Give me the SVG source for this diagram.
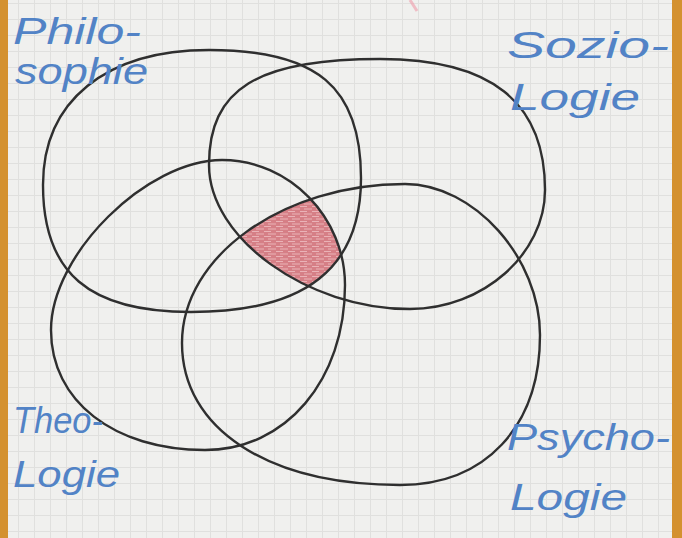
<svg xmlns="http://www.w3.org/2000/svg" width="682" height="538" viewBox="0 0 682 538">
<defs>
<pattern id="grid" width="16" height="16" patternUnits="userSpaceOnUse" x="3" y="4">
<path d="M15.5 0 V16 M0 15.5 H16" stroke="#e0e0de" stroke-width="1" fill="none"/>
</pattern>
<pattern id="hatch" width="12" height="5" patternUnits="userSpaceOnUse">
<rect width="12" height="5" fill="#d67f86"/>
<path d="M0 1.5 H7 M4 4 H12" stroke="#eab3b7" stroke-width="1.1"/>
</pattern>
<path id="p-phil" d="M43,185 C43,101 106,50 209,50 C317,50 361,87 361,178 C361,268 306,312 191,312 C89,312 43,273 43,185 Z"/>
<path id="p-soz" d="M209,165 C209,89 257,59 380,59 C491,59 545,102 545,190 C545,254 483,309 410,309 C307,309 209,238 209,165 Z"/>
<path id="p-theo" d="M51,330 C51,254 147,160 222,160 C290,160 345,218 345,285 C345,380 286,450 205,450 C114,450 51,401 51,330 Z"/>
<path id="p-psy" d="M182,343 C182,256 283,184 405,184 C474,184 540,258 540,335 C540,427 485,485 400,485 C268,485 182,429 182,343 Z"/>
<clipPath id="c-phil"><use href="#p-phil"/></clipPath>
<clipPath id="c-soz"><use href="#p-soz"/></clipPath>
<clipPath id="c-theo"><use href="#p-theo"/></clipPath>
<clipPath id="c-psy"><use href="#p-psy"/></clipPath>
</defs>
<style>
.ring{fill:none;stroke:#2f2f2f;stroke-width:2.4;stroke-linejoin:round}
.lbl{font-family:"Liberation Sans","DejaVu Sans",sans-serif;font-style:italic;fill:#5283c6;font-size:36px}
</style>
<rect width="682" height="538" fill="#f0f0ee"/>
<rect width="682" height="538" fill="url(#grid)"/>
<path d="M410,0 L417,11" stroke="#ef9aa8" stroke-width="3" fill="none" opacity="0.6"/>

<g id="intersection">
<g clip-path="url(#c-phil)"><g clip-path="url(#c-soz)"><g clip-path="url(#c-theo)">
<rect x="150" y="150" width="250" height="200" fill="url(#hatch)" clip-path="url(#c-psy)"/>
</g></g></g>
</g>

<g id="philosophie">
<use href="#p-phil" class="ring"/>
<text class="lbl" x="13" y="44" textLength="128" lengthAdjust="spacingAndGlyphs">Philo-</text>
<text class="lbl" x="15" y="84" textLength="133" lengthAdjust="spacingAndGlyphs">sophie</text>
</g>
<g id="soziologie">
<use href="#p-soz" class="ring"/>
<text class="lbl" x="507" y="58" textLength="162" lengthAdjust="spacingAndGlyphs">Sozio-</text>
<text class="lbl" x="510" y="110" textLength="130" lengthAdjust="spacingAndGlyphs">Logie</text>
</g>
<g id="theologie">
<use href="#p-theo" class="ring"/>
<text class="lbl" x="13" y="433" font-size="32" textLength="90" lengthAdjust="spacingAndGlyphs">Theo-</text>
<text class="lbl" x="13" y="487" textLength="107" lengthAdjust="spacingAndGlyphs">Logie</text>
</g>
<g id="psychologie">
<use href="#p-psy" class="ring"/>
<text class="lbl" x="507" y="450" textLength="163" lengthAdjust="spacingAndGlyphs">Psycho-</text>
<text class="lbl" x="510" y="510" textLength="117" lengthAdjust="spacingAndGlyphs">Logie</text>
</g>
<g id="connectors"/>
<rect x="0" y="0" width="8" height="538" fill="#d4912f"/>
<rect x="672" y="0" width="10" height="538" fill="#d4912f"/>
</svg>
